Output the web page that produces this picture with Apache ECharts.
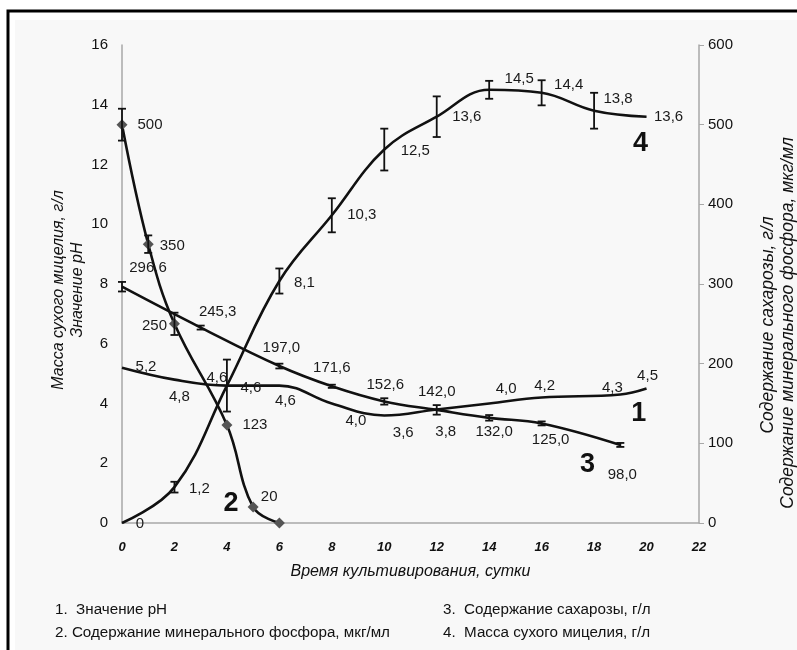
<!DOCTYPE html>
<html>
<head>
<meta charset="utf-8">
<script src="https://cdn.jsdelivr.net/npm/echarts@6/dist/echarts.min.js"></script>
<style>
  html, body { margin: 0; padding: 0; background: #fff; }
  #chart { width: 797px; height: 650px; }
</style>
</head>
<body>
<div id="chart"></div>
<script>
// --- data ---
var seriesNames = [
  "Значение pH",
  "Содержание минерального фосфора, мкг/мл",
  "Содержание сахарозы, г/л",
  "Масса сухого мицелия, г/л"
];
var xTicks = [0, 2, 4, 6, 8, 10, 12, 14, 16, 18, 20, 22];

var phDays = [0, 2, 4, 6, 8, 10, 12, 14, 16, 19, 20];
var phValues = [5.2, 4.8, 4.6, 4.6, 4.0, 3.6, 3.8, 4.0, 4.2, 4.3, 4.5];

var phosDays = [0, 1, 2, 4, 5, 6];
var phosValues = [500, 350, 250, 123, 20, 0];
var phosErr = [20, 11, 14, 0, 0, 0];

var sucDays = [0, 3, 6, 8, 10, 12, 14, 16, 19];
var sucValues = [296.6, 245.3, 197.0, 171.6, 152.6, 142.0, 132.0, 125.0, 98.0];
var sucErr = [6, 2.5, 3, 2, 4, 6, 3.5, 2.5, 2.5];

var myDays = [0, 2, 4, 6, 8, 10, 12, 14, 16, 18, 20];
var myValues = [0, 1.2, 4.6, 8.1, 10.3, 12.5, 13.6, 14.5, 14.4, 13.8, 13.6];
var myErr = [0, 0.18, 0.87, 0.42, 0.57, 0.7, 0.68, 0.3, 0.42, 0.6, 0];

// label offsets (px from point to label centre)
var phLabelOff = [[24, -1], [5, 17], [24, 2], [6, 15], [24, 17], [19, 17], [9, 22], [17, -15], [3, -12], [-8, -7], [1, -13]];
var phosLabelOff = [[28, 0], [24, 2], [-20, 2], [28, 0], [16, -10], null];
var sucLabelOff = [[26, -19], [17, -16], [2, -18], [0, -18], [1, -17], [0, -18], [5, 14], [9, 16], [2, 30]];
var myLabelOff = [[18, 1], [25, 2], [-10, -8], [25, 2], [30, 0], [31, 1], [30, 0], [30, -11], [27, -8], [24, -12], [22, 0]];

var FONT = "'Liberation Sans', Arial, sans-serif";
var NARROW = "'Liberation Sans Narrow', 'Liberation Sans', Arial, sans-serif";
var INK = "#111";

function fmt(v, dec) {
  if (v === 0) return "0";
  return v.toFixed(dec).replace(".", ",");
}

function points(days, vals, offs, dec) {
  return days.map(function (d, i) {
    var o = offs[i];
    return {
      value: [d, vals[i]],
      label: o ? { show: true, offset: o, formatter: fmt(vals[i], dec) } : { show: false }
    };
  });
}

function errData(days, vals, errs) {
  var out = [];
  days.forEach(function (d, i) {
    if (errs[i] > 0) out.push([d, vals[i] - errs[i], vals[i] + errs[i]]);
  });
  return out;
}

function errorBar(params, api) {
  var x = api.value(0);
  var top = api.coord([x, api.value(2)]);
  var bot = api.coord([x, api.value(1)]);
  var w = 4;
  var st = { stroke: INK, lineWidth: 1.8 };
  return {
    type: "group",
    children: [
      { type: "line", shape: { x1: top[0], y1: top[1], x2: bot[0], y2: bot[1] }, style: st },
      { type: "line", shape: { x1: top[0] - w, y1: top[1], x2: top[0] + w, y2: top[1] }, style: st },
      { type: "line", shape: { x1: bot[0] - w, y1: bot[1], x2: bot[0] + w, y2: bot[1] }, style: st }
    ]
  };
}

var lineLabel = {
  position: "inside",
  align: "center",
  verticalAlign: "middle",
  color: "#1a1a1a",
  fontFamily: FONT,
  fontSize: 15
};

function bigNumber(text, coord) {
  return {
    symbol: "circle",
    symbolSize: 1,
    itemStyle: { color: "rgba(0,0,0,0)" },
    label: {
      show: true, position: "inside", formatter: text,
      fontFamily: FONT, fontWeight: "bold", fontSize: 27, color: INK
    },
    data: [{ coord: coord }]
  };
}

var chart = echarts.init(document.getElementById("chart"));

var legendFont = "15.2px " + NARROW;
var titleFontL = "italic 16px " + FONT;
var titleFontR = "italic 17.5px " + FONT;

var option = {
  backgroundColor: "#fff",
  animation: false,
  grid: { left: 122, right: 98, top: 45, bottom: 127 },
  graphic: [
    { type: "rect", z: -2, shape: { x: 8, y: 11, width: 800, height: 700 },
      style: { fill: "#fff", stroke: "#000", lineWidth: 3 } },
    { type: "rect", z: -1, shape: { x: 15, y: 20, width: 790, height: 640 },
      style: { fill: "#f8f8f8" } },
    { type: "text", left: 55, top: 602,
      style: { text: "1.  " + seriesNames[0], font: legendFont, fill: INK } },
    { type: "text", left: 55, top: 625,
      style: { text: "2. " + seriesNames[1], font: legendFont, fill: INK } },
    { type: "text", left: 443, top: 602,
      style: { text: "3.  " + seriesNames[2], font: legendFont, fill: INK } },
    { type: "text", left: 443, top: 625,
      style: { text: "4.  " + seriesNames[3], font: legendFont, fill: INK } },
    { type: "text", x: 59, y: 290, rotation: Math.PI / 2,
      style: { text: "Масса сухого мицелия, г/л", font: titleFontL, fill: INK, align: "center", verticalAlign: "middle" } },
    { type: "text", x: 78, y: 290, rotation: Math.PI / 2,
      style: { text: "Значение pH", font: titleFontL, fill: INK, align: "center", verticalAlign: "middle" } },
    { type: "text", x: 768, y: 325, rotation: Math.PI / 2,
      style: { text: "Содержание сахарозы, г/л", font: titleFontR, fill: INK, align: "center", verticalAlign: "middle" } },
    { type: "text", x: 788, y: 323, rotation: Math.PI / 2,
      style: { text: "Содержание минерального фосфора, мкг/мл", font: titleFontR, fill: INK, align: "center", verticalAlign: "middle" } }
  ],
  xAxis: {
    type: "value",
    min: xTicks[0],
    max: xTicks[xTicks.length - 1],
    interval: 2,
    name: "Время культивирования, сутки",
    nameLocation: "middle",
    nameGap: 41,
    nameTextStyle: { fontFamily: FONT, fontStyle: "italic", fontSize: 16, color: INK },
    axisLine: { lineStyle: { color: "#a8a8a8", width: 1.5 } },
    axisTick: { show: false },
    splitLine: { show: false },
    axisLabel: {
      margin: 18, color: INK, fontFamily: NARROW, fontStyle: "italic", fontWeight: "bold", fontSize: 13
    }
  },
  yAxis: [
    {
      type: "value", min: 0, max: 16, interval: 2, position: "left",
      axisLine: { show: true, lineStyle: { color: "#a8a8a8", width: 1.5 } },
      axisTick: { show: false },
      splitLine: { show: false },
      axisLabel: { margin: 14, color: INK, fontFamily: FONT, fontSize: 15 }
    },
    {
      type: "value", min: 0, max: 600, interval: 100, position: "right",
      axisLine: { show: true, lineStyle: { color: "#a8a8a8", width: 1.5 } },
      axisTick: { show: true, length: 5, lineStyle: { color: "#a8a8a8" } },
      splitLine: { show: false },
      axisLabel: { margin: 9, color: INK, fontFamily: FONT, fontSize: 15 }
    }
  ],
  series: [
    {
      name: seriesNames[0], type: "line", yAxisIndex: 0, smooth: 0.4,
      symbol: "circle", symbolSize: 1, itemStyle: { color: "rgba(0,0,0,0)" },
      lineStyle: { color: INK, width: 2.6 },
      label: lineLabel,
      data: points(phDays, phValues, phLabelOff, 1),
      markPoint: bigNumber("1", [19.7, 3.68])
    },
    {
      name: seriesNames[1], type: "line", yAxisIndex: 1, smooth: 0.4,
      symbol: "diamond", symbolSize: 11, itemStyle: { color: "#555" },
      lineStyle: { color: INK, width: 2.6 },
      label: lineLabel,
      data: points(phosDays, phosValues, phosLabelOff, 0),
      markPoint: bigNumber("2", [4.16, 25])
    },
    {
      name: seriesNames[2], type: "line", yAxisIndex: 1, smooth: 0.4,
      symbol: "circle", symbolSize: 1, itemStyle: { color: "rgba(0,0,0,0)" },
      lineStyle: { color: INK, width: 2.6 },
      label: lineLabel,
      data: points(sucDays, sucValues, sucLabelOff, 1),
      markPoint: bigNumber("3", [17.75, 73])
    },
    {
      name: seriesNames[3], type: "line", yAxisIndex: 0, smooth: 0.4,
      symbol: "circle", symbolSize: 1, itemStyle: { color: "rgba(0,0,0,0)" },
      lineStyle: { color: INK, width: 2.6 },
      label: lineLabel,
      data: points(myDays, myValues, myLabelOff, 1),
      markPoint: bigNumber("4", [19.77, 12.7])
    },
    { type: "custom", yAxisIndex: 1, silent: true, z: 4, renderItem: errorBar,
      encode: { x: 0, y: [1, 2] }, data: errData(phosDays, phosValues, phosErr) },
    { type: "custom", yAxisIndex: 1, silent: true, z: 4, renderItem: errorBar,
      encode: { x: 0, y: [1, 2] }, data: errData(sucDays, sucValues, sucErr) },
    { type: "custom", yAxisIndex: 0, silent: true, z: 4, renderItem: errorBar,
      encode: { x: 0, y: [1, 2] }, data: errData(myDays, myValues, myErr) }
  ]
};

chart.setOption(option);
</script>
</body>
</html>
